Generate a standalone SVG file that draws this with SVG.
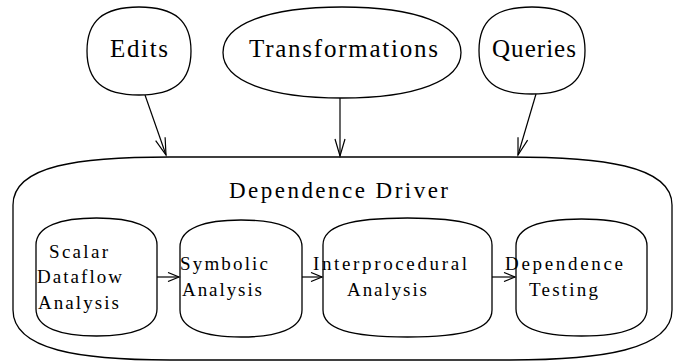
<svg xmlns="http://www.w3.org/2000/svg" width="680" height="363" viewBox="0 0 680 363">
<defs>
<style>
.sh{fill:none;stroke:#000;stroke-width:1.3;stroke-linejoin:round}
.cn{fill:none;stroke:#000;stroke-width:1.2}
text{font-family:"Liberation Serif","DejaVu Serif","Times New Roman",serif;fill:#000}
.big{font-size:25px}
.mid{font-size:23px}
.sm{font-size:19px}
</style>
<marker id="ah" markerUnits="userSpaceOnUse" markerWidth="20" markerHeight="12" refX="0" refY="0" viewBox="-18 -6 20 12" orient="auto">
<path d="M-17,-5 L0,0 L-17,5" fill="none" stroke="#000" stroke-width="1.2"/>
</marker>
<marker id="as" markerUnits="userSpaceOnUse" markerWidth="14" markerHeight="10" refX="0" refY="0" viewBox="-12 -5 14 10" orient="auto">
<path d="M-11,-4.5 L0,0 L-11,4.5" fill="none" stroke="#000" stroke-width="1.2"/>
</marker>
</defs>
<rect width="680" height="363" fill="#fff"/>
<g id="edits">
<path class="sh" d="M87,51 C87,21 103,7 139,7 C175,7 191,21 191,51 C191,81 175,95 139,95 C103,95 87,81 87,51 Z"/>
<text class="big" x="110" y="57" textLength="58" lengthAdjust="spacing">Edits</text>
</g>
<g id="transformations">
<path class="sh" d="M223,52.5 C223,24.3 268.2,7 342,7 C415.8,7 461,24.3 461,52.5 C461,80.7 415.8,98 342,98 C268.2,98 223,80.7 223,52.5 Z"/>
<text class="big" x="249" y="57" textLength="189" lengthAdjust="spacing">Transformations</text>
</g>
<g id="queries">
<path class="sh" d="M479,50.5 C479,20.5 495,7 532,7 C569,7 585,20.5 585,50.5 C585,80.5 569,94 532,94 C495,94 479,80.5 479,50.5 Z"/>
<text class="big" x="492" y="57" textLength="84" lengthAdjust="spacing">Queries</text>
</g>
<g id="driver">
<path class="sh" d="M13,205 C13,165 80,157 170,157 L510,157 C600,157 672,165 672,205 L672,310 C672,350 600,360 510,360 L170,360 C80,360 13,350 13,310 Z"/>
<text class="mid" x="229" y="198" textLength="219" lengthAdjust="spacing">Dependence Driver</text>
</g>
<g id="scalar">
<path class="sh" d="M36,245 C36,226 61,218 96.5,218 C132,218 157,226 157,245 L157,309 C157,328 132,336 96.5,336 C61,336 36,328 36,309 Z"/>
<text class="sm" x="49" y="258" textLength="59" lengthAdjust="spacing">Scalar</text>
<text class="sm" x="37" y="283" textLength="85" lengthAdjust="spacing">Dataflow</text>
<text class="sm" x="38" y="309" textLength="81" lengthAdjust="spacing">Analysis</text>
</g>
<g id="symbolic">
<path class="sh" d="M180,247 C180,228 205,220 241,220 C277,220 302,228 302,247 L302,310 C302,329 277,337 241,337 C205,337 180,329 180,310 Z"/>
<text class="sm" x="180" y="270" textLength="88" lengthAdjust="spacing">Symbolic</text>
<text class="sm" x="182" y="296" textLength="80" lengthAdjust="spacing">Analysis</text>
</g>
<g id="interprocedural">
<path class="sh" d="M323,245 C323,226 350,218 407.5,218 C465,218 492,226 492,245 L492,310 C492,329 465,337 407.5,337 C350,337 323,329 323,310 Z"/>
<text class="sm" x="313" y="270" textLength="154" lengthAdjust="spacing">Interprocedural</text>
<text class="sm" x="347" y="296" textLength="80" lengthAdjust="spacing">Analysis</text>
</g>
<g id="testing">
<path class="sh" d="M516,246 C516,227 541,219 581.5,219 C622,219 647,227 647,246 L647,309 C647,328 622,336 581.5,336 C541,336 516,328 516,309 Z"/>
<text class="sm" x="505" y="270" textLength="118" lengthAdjust="spacing">Dependence</text>
<text class="sm" x="529" y="296" textLength="69" lengthAdjust="spacing">Testing</text>
</g>
<g id="connectors">
<line class="cn" x1="145" y1="95" x2="166" y2="155" marker-end="url(#ah)"/>
<line class="cn" x1="340" y1="98" x2="340" y2="156" marker-end="url(#ah)"/>
<line class="cn" x1="536" y1="94" x2="518" y2="155" marker-end="url(#ah)"/>
<line class="cn" x1="157" y1="277" x2="179" y2="277" marker-end="url(#as)"/>
<line class="cn" x1="302" y1="277" x2="322" y2="277" marker-end="url(#as)"/>
<line class="cn" x1="492" y1="277" x2="515" y2="277" marker-end="url(#as)"/>
</g>
</svg>
